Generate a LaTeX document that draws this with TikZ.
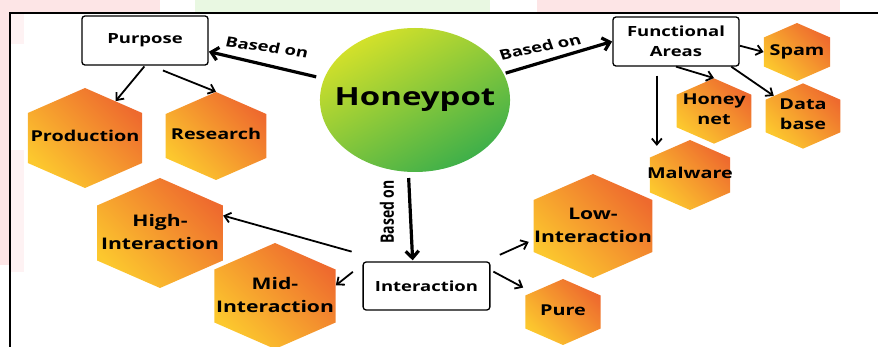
\documentclass[tikz,border=0pt]{standalone}
\usepackage{fontspec}
\setmainfont{Open Sans}
\usetikzlibrary{arrows.meta,shapes.geometric}

\definecolor{hexorange}{HTML}{EE6A2E}
\definecolor{hexyellow}{HTML}{FCC82E}
\definecolor{rootyellow}{HTML}{D4E12A}
\definecolor{rootlime}{HTML}{9CCB3A}
\definecolor{rootgreen}{HTML}{3DAF4A}
\definecolor{bandpink}{HTML}{FDE5E6}
\definecolor{bandgreen}{HTML}{E9F8E2}

% text of a hexagon cell, kept out of the shape size
\newcommand{\celltext}[1]{\makebox[0pt]{\begin{tabular}{@{}c@{}}#1\end{tabular}}}

\tikzset{
  hexcell/.style={regular polygon, regular polygon sides=6, shape border rotate=30,
    minimum size=#1, inner sep=0pt, xscale=1.32, transform shape,
    left color=hexorange, right color=hexyellow, shading angle=-45,
    font=\bfseries\fontsize{15}{20}\selectfont},
  bighex/.style={font=\bfseries\fontsize{16}{23}\selectfont},
  topicbox/.style={draw, line width=1.3pt, rounded corners=3pt, fill=white,
    minimum width=95.5pt, minimum height=49pt, xscale=1.32, transform shape,
    align=center, font=\bfseries\fontsize{14}{20}\selectfont},
  rootnode/.style={circle, minimum size=144pt, inner sep=0pt, xscale=1.32, transform shape,
    top color=rootyellow, middle color=rootlime, bottom color=rootgreen, shading angle=30,
    font=\bfseries\fontsize{25}{30}\selectfont},
  basedlbl/.style={xscale=1.32, transform shape, inner sep=0pt, font=\bfseries\fontsize{14}{16}\selectfont},
  thinlink/.style={line width=1.8pt, -{Straight Barb[length=6pt,width=10pt]}},
  thicklink/.style={line width=3.2pt, -{Straight Barb[length=7pt,width=13pt]}}
}

\begin{document}
\begin{tikzpicture}[x=1pt,y=-1pt]
  \useasboundingbox (0,0) rectangle (878,347);

  % Background bands and frame
  \fill[bandpink] (0,0) rectangle (160,13);
  \fill[bandgreen] (195,0) rectangle (490,13);
  \fill[bandpink] (537,0) rectangle (840,13);
  \fill[bandpink] (0,13) rectangle (9,265);
  \fill[bandpink!50] (11,14) rectangle (24,44);
  \fill[bandpink!50] (11,150) rectangle (24,272);
  \draw[line width=1.6pt] (10,347) -- (10,13) -- (878,13);

  % Root
  \node[rootnode] (honeypot) at (415,100) {Honeypot};

  % Rounded Rect
  \node[topicbox] (purpose) at (145,40.5) {Purpose};
  \node[topicbox] (functional) at (676,41.5) {Functional\\Areas};
  \node[topicbox, minimum width=96pt, minimum height=48pt] (interaction) at (426.5,286) {Interaction};

  % Hexagon
  \node[hexcell=100pt] (production) at (85,138) {\celltext{Production}};
  \node[hexcell=88pt] (research) at (216,136) {\celltext{Research}};
  \node[hexcell=110pt, bighex] (high) at (160,233) {\celltext{High-\\Interaction}};
  \node[hexcell=106pt, bighex] (mid) at (275,296) {\celltext{Mid-\\Interaction}};
  \node[hexcell=104pt, bighex] (low) at (593,226) {\celltext{Low-\\Interaction}};
  \node[hexcell=66pt] (pure) at (563,312) {\celltext{Pure}};
  \node[hexcell=70pt] (malware) at (690,175) {\celltext{Malware}};
  \node[hexcell=58pt] (honeynet) at (714,111) {\celltext{Honey\\net}};
  \node[hexcell=58pt] (database) at (803,116) {\celltext{Data\\base}};
  \node[hexcell=58pt] (spam) at (797,52) {\celltext{Spam}};

  % Straight Lines
  \draw[thicklink, shorten <=8pt] (honeypot) -- (purpose.-13.5);
  \draw[thicklink, shorten <=2pt] (honeypot) -- (functional.west);
  \draw[thicklink, shorten <=6pt, shorten >=1pt] (honeypot.266) -- (interaction.113);

  \draw[thinlink, shorten <=1pt] (purpose.south) -- (production);
  \draw[thinlink, shorten <=13pt] (purpose.-80) -- (research.north);

  \draw[thinlink] (functional.-5) -- (spam.west);
  \draw[thinlink] (functional.south) -- (honeynet.north);
  \draw[thinlink] (functional.-31) -- (database);
  \draw[thinlink, shorten <=9pt] (functional.-120) -- (functional.-120 |- malware.110);

  \draw[thinlink, shorten <=36pt] (interaction.141) -- (high.20);
  \draw[thinlink, shorten <=12pt] (interaction.156) -- (mid.13.5);
  \draw[thinlink, shorten <=16pt, shorten >=5pt] (interaction.29.5) -- (low.197);
  \draw[thinlink, shorten <=3pt, shorten >=10pt] (interaction.18) -- (pure.140);

  % Text Node
  \node[basedlbl, rotate=-10] (lblpurpose) at (267,47) {Based on};
  \node[basedlbl, rotate=15] (lblfunctional) at (540,47) {Based on};
  \node[basedlbl, rotate=90] (lblinteraction) at (387,212) {Based on};
\end{tikzpicture}
\end{document}
